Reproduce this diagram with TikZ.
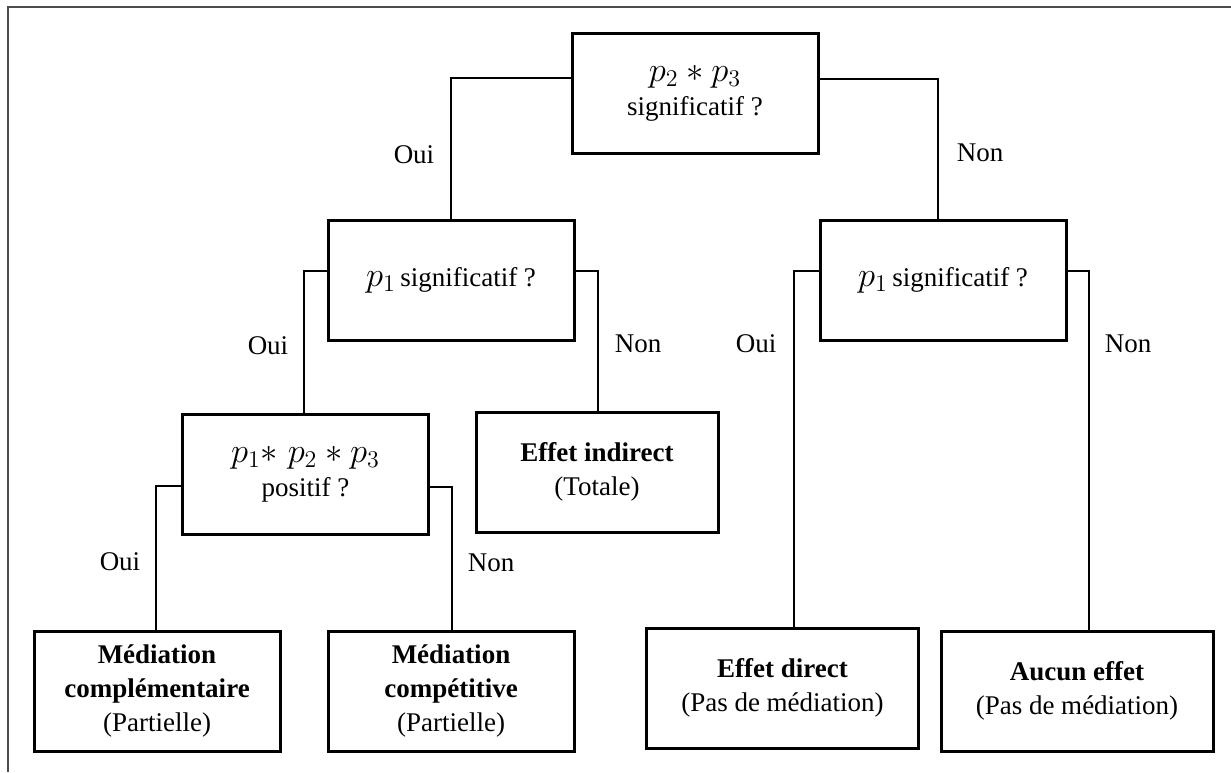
\documentclass[tikz,border=0pt]{standalone}
\usepackage{fontspec}
\setmainfont{Liberation Serif}
\newcommand{\grandmath}[1]{{\fontsize{16.5}{18}\selectfont$#1$}}
\begin{document}
\begin{tikzpicture}[x=0.5pt,y=-0.5pt,
    boite/.style={draw,line width=1.5pt,minimum width=123pt,minimum height=60pt,
      inner sep=0pt,align=center,font=\fontsize{13.5}{17}\selectfont},
    large/.style={minimum width=136pt},
    lien/.style={line width=0.6pt},
    rep/.style={font=\fontsize{13.5}{17}\selectfont}]
  % \helpgrid{3}{3}
  \useasboundingbox (0,0) rectangle (1231,772);
  \draw[line width=0.75pt,black!70] (1231,7) -- (8,7) -- (8,772);

  \node[boite] (q23) at (695,93) {\grandmath{p_2 * p_3}\\significatif ?};
  \node[boite] (q1g) at (451,280.5) {\grandmath{p_1}\,significatif ?};
  \node[boite] (q1d) at (943,280.5) {\grandmath{p_1}\,significatif ?};
  \node[boite] (q123) at (305.5,474.5) {\grandmath{p_1{*}\;p_2 * p_3}\\positif ?};
  \node[boite,minimum width=121pt] (indir) at (597,472) {\textbf{Effet indirect}\\(Totale)};
  \node[boite] (compl) at (157,691) {\textbf{Médiation}\\\textbf{complémentaire}\\(Partielle)};
  \node[boite] (compet) at (451,691) {\textbf{Médiation}\\\textbf{compétitive}\\(Partielle)};
  \node[boite,large] (direct) at (782.5,688) {\textbf{Effet direct}\\(Pas de médiation)};
  \node[boite,large] (aucun) at (1077,691) {\textbf{Aucun effet}\\(Pas de médiation)};

  \draw[lien] (q23.west |- 0,78) -| (q1g.north);
  \draw[lien] (q23.east |- 0,79) -| ([xshift=-2.5pt]q1d.north);
  \draw[lien] (q1g.west |- 0,271) -| ([xshift=-0.75pt]q123.north);
  \draw[lien] (q1g.east |- 0,271) -| ([xshift=0.5pt]indir.north);
  \draw[lien] (q1d.west |- 0,271) -| ([xshift=5.75pt]direct.north);
  \draw[lien] (q1d.east |- 0,271) -| ([xshift=6pt]aucun.north);
  \draw[lien] (q123.west |- 0,486) -| ([xshift=-0.5pt]compl.north);
  \draw[lien] (q123.east |- 0,487) -| ([xshift=0.5pt]compet.north);

  \node[rep] (oui1) at (414,155) {Oui};
  \node[rep] (non1) at (980,153) {Non};
  \node[rep] (oui2) at (268,346) {Oui};
  \node[rep] (non2) at (638,344) {Non};
  \node[rep] (oui3) at (756,344) {Oui};
  \node[rep] (non3) at (1128,344) {Non};
  \node[rep] (oui4) at (120,562) {Oui};
  \node[rep] (non4) at (491,563) {Non};

\end{tikzpicture}
\end{document}
